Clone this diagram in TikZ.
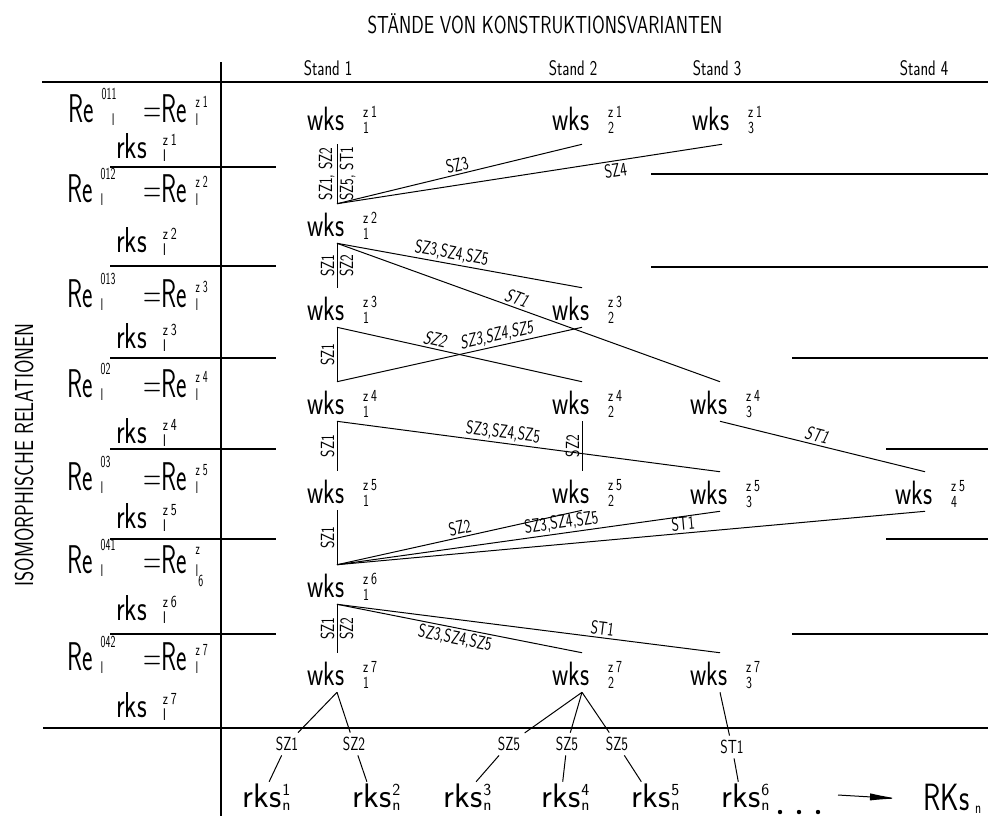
\documentclass[tikz,border=0pt]{standalone}
\usepackage{fontspec}
\setmainfont{lmsans17-regular.otf}[FakeStretch=0.75]
\newfontfamily\slfont{lmsans17-regular.otf}[FakeStretch=0.75,FakeSlant=0.2]
\newfontfamily\widefont{lmsans17-regular.otf}
\newfontfamily\narrowfont{lmsans17-regular.otf}[FakeStretch=0.62]
\usetikzlibrary{arrows.meta}
\newcommand\idxfont{\fontsize{12}{12}\selectfont}
% index pair: [gap]{raise of top}{top}{bottom}
\newcommand\ix[4][.2em]{\makebox[0pt][l]{\hspace{#1}\raisebox{#2}{\idxfont #3}}\makebox[0pt][l]{\hspace{#1}\raisebox{-.09em}{\idxfont #4}}}
\newcommand\wk[2]{wks\ix[.56em]{.38em}{#1}{#2}\kern.66em}
\tikzset{
  rule/.style={line width=0.6mm},
  conn/.style={line width=0.25mm},
  ttl/.style={font={\fontsize{17.5}{18}\selectfont},inner sep=0pt},
  hd/.style={font={\fontsize{15}{15}\selectfont},inner sep=0pt,anchor=base},
  wks/.style={font={\fontsize{24}{24}\selectfont},inner sep=0pt,text height=8mm,text depth=1.75mm,anchor=base},
  re/.style={font={\narrowfont\fontsize{28.5}{29}\selectfont},inner sep=0pt,anchor=base west},
  rk/.style={font={\fontsize{25.6}{26}\selectfont},inner sep=0pt,anchor=base west},
  rkn/.style={font={\widefont\fontsize{24.2}{25}\selectfont},inner sep=1pt,anchor=base},
  rkbig/.style={font={\fontsize{27}{27}\selectfont},inner sep=0pt,anchor=base west},
  lbl/.style={font={\fontsize{13.5}{14}\selectfont},inner sep=1.5pt},
  slbl/.style={lbl,font={\slfont\fontsize{13.5}{14}\selectfont}},
  blbl/.style={lbl,inner sep=3pt},
}
\begin{document}
\begin{tikzpicture}[x=0.25mm,y=-0.25mm]
\useasboundingbox (0,0) rectangle (988,816);
% grid of the table
\draw[rule] (221,62) -- (221,816);
\draw[rule] (42,82) -- (988,82);
\draw[rule] (43,728) -- (988,728);
\draw[rule] (110,167) -- (276,167);
\draw[rule] (110,266) -- (276,266);
\draw[rule] (110,358) -- (276,358);
\draw[rule] (110,449) -- (276,449);
\draw[rule] (110,539) -- (276,539);
\draw[rule] (110,634) -- (276,634);
\draw[rule] (651,174) -- (988,174);
\draw[rule] (651,267) -- (988,267);
\draw[rule] (792,358) -- (988,358);
\draw[rule] (886,449) -- (988,449);
\draw[rule] (886,539) -- (988,539);
\draw[rule] (792,634) -- (988,634);

% headings
\node[ttl] (title) at (545,24) {STÄNDE VON KONSTRUKTIONSVARIANTEN};
\node[ttl,font={\fontsize{18.5}{19}\selectfont},rotate=90] (isorel) at (24,455) {ISOMORPHISCHE RELATIONEN};
\node[hd] (st1) at (328,75) {Stand 1};
\node[hd] (st2) at (573,75) {Stand 2};
\node[hd] (st3) at (717,75) {Stand 3};
\node[hd] (st4) at (924,75) {Stand 4};

% relations
\node[re] (ra1) at (68,122) {Re\ix[.2em]{.55em}{011}{\hspace{.6em}I}};
\node[re] (rb1) at (143,122) {=Re\ix[.22em]{.36em}{z\,1}{I}};
\node[rk] (rk1) at (116,158) {rks\ix[.44em]{.34em}{z\,1}{I}};
\node[re] (ra2) at (67,202) {Re\ix[.2em]{.55em}{012}{I}};
\node[re] (rb2) at (143,202) {=Re\ix[.22em]{.36em}{z\,2}{I}};
\node[rk] (rk2) at (116,252) {rks\ix[.44em]{.34em}{z\,2}{I}};
\node[re] (ra3) at (67,307) {Re\ix[.2em]{.55em}{013}{I}};
\node[re] (rb3) at (143,307) {=Re\ix[.22em]{.36em}{z\,3}{I}};
\node[rk] (rk3) at (116,348) {rks\ix[.44em]{.34em}{z\,3}{I}};
\node[re] (ra4) at (67,397) {Re\ix[.2em]{.55em}{02}{I}};
\node[re] (rb4) at (143,397) {=Re\ix[.22em]{.36em}{z\,4}{I}};
\node[rk] (rk4) at (116,443) {rks\ix[.44em]{.34em}{z\,4}{I}};
\node[re] (ra5) at (67,490) {Re\ix[.2em]{.55em}{03}{I}};
\node[re] (rb5) at (143,490) {=Re\ix[.22em]{.36em}{z\,5}{I}};
\node[rk] (rk5) at (116,528) {rks\ix[.44em]{.34em}{z\,5}{I}};
\node[re] (ra6) at (67,573) {Re\ix[.2em]{.55em}{041}{I}};
\node[re] (rb6) at (143,573) {=Re\ix[.22em]{.45em}{z}{I\raisebox{-.6em}{6}}};
\node[rk] (rk6) at (116,620) {rks\ix[.44em]{.34em}{z\,6}{I}};
\node[re] (ra7) at (67,670) {Re\ix[.2em]{.55em}{042}{I}};
\node[re] (rb7) at (143,670) {=Re\ix[.22em]{.36em}{z\,7}{I}};
\node[rk] (rk7) at (116,717) {rks\ix[.44em]{.34em}{z\,7}{I}};

% states
\node[wks,text depth=3.5mm] (w11) at (337,130) {\wk{z\,1}{1}};
\node[wks,text depth=3.5mm] (w21) at (582,130) {\wk{z\,1}{2}};
\node[wks,text depth=3.5mm] (w31) at (722,130) {\wk{z\,1}{3}};
\node[wks] (w12) at (337,236) {\wk{z\,2}{1}};
\node[wks] (w13) at (337,320) {\wk{z\,3}{1}};
\node[wks] (w23) at (582,320) {\wk{z\,3}{2}};
\node[wks] (w14) at (337,414) {\wk{z\,4}{1}};
\node[wks] (w24) at (582,414) {\wk{z\,4}{2}};
\node[wks] (w34) at (720,414) {\wk{z\,4}{3}};
\node[wks] (w15) at (337,503) {\wk{z\,5}{1}};
\node[wks] (w25) at (582,503) {\wk{z\,5}{2}};
\node[wks] (w35) at (720,504) {\wk{z\,5}{3}};
\node[wks] (w45) at (925,504) {\wk{z\,5}{4}};
\node[wks] (w16) at (337,597) {\wk{z\,6}{1}};
\node[wks] (w17) at (337,685) {\wk{z\,7}{1}};
\node[wks] (w27) at (582,685) {\wk{z\,7}{2}};
\node[wks] (w37) at (720,685) {\wk{z\,7}{3}};

% transitions
\draw[conn] (w12.north) -- node[lbl,midway,rotate=90,anchor=south] {SZ1, SZ2} node[lbl,midway,rotate=90,anchor=north] {SZ5, ST1} (w11.south);
\draw[conn] (w12.north) -- node[lbl,sloped,above,pos=0.5] {SZ3} (w21.south);
\draw[conn] (w12.north) -- node[lbl,sloped,below,pos=0.72] {SZ4} (w31.south);

\draw[conn] (w13.north) -- node[lbl,midway,rotate=90,anchor=south] {SZ1} node[lbl,midway,rotate=90,anchor=north] {SZ2} (w12.south);
\draw[conn] (w12.south) -- node[lbl,sloped,above,pos=0.46] {SZ3,SZ4,SZ5} (w23.north);
\draw[conn] (w12.south) -- node[slbl,sloped,above,pos=0.46] {ST1} (w34.north);

\draw[conn] (w14.north) -- node[lbl,midway,rotate=90,anchor=south] {SZ1} (w13.south);
\draw[conn] (w13.south) -- node[slbl,sloped,above,pos=0.39] {SZ2} (w24.north);
\draw[conn] (w14.north) -- node[slbl,sloped,above,pos=0.66] {SZ3,SZ4,SZ5} (w23.south);

\draw[conn] (w15.north) -- node[lbl,midway,rotate=90,anchor=south] {SZ1} (w14.south);
\draw[conn] (w14.south) -- node[lbl,sloped,above,pos=0.43] {SZ3,SZ4,SZ5} (w35.north);
\draw[conn] (w25.north) -- node[lbl,midway,rotate=90,anchor=south] {SZ2} (w24.south);
\draw[conn] (w34.south) -- node[slbl,sloped,above,pos=0.46] {ST1} (w45.north);

\draw[conn] (w16.north) -- node[lbl,midway,rotate=90,anchor=south] {SZ1} (w15.south);
\draw[conn] (w16.north) -- node[lbl,sloped,above,pos=0.51] {SZ2} (w25.south);
\draw[conn] (w16.north) -- node[lbl,sloped,above,pos=0.59] {SZ3,SZ4,SZ5} (w35.south);
\draw[conn] (w16.north) -- node[lbl,sloped,above,pos=0.59] {ST1} (w45.south);

\draw[conn] (w17.north) -- node[lbl,midway,rotate=90,anchor=south] {SZ1} node[lbl,midway,rotate=90,anchor=north] {SZ2} (w16.south);
\draw[conn] (w16.south) -- node[lbl,sloped,below,pos=0.49] {SZ3,SZ4,SZ5} (w27.north);
\draw[conn] (w16.south) -- node[lbl,sloped,above,pos=0.69] {ST1} (w37.north);

% variants
\node[blbl] (b1) at (287,744) {SZ1};
\node[blbl] (b2) at (354,744) {SZ2};
\node[blbl] (b3) at (509,744) {SZ5};
\node[blbl] (b4) at (567,744) {SZ5};
\node[blbl] (b5) at (617,744) {SZ5};
\node[blbl] (b6) at (732,747) {ST1};
\node[rkn] (r1) at (262,807) {rks\ix[.03em]{.35em}{1}{n}};
\node[rkn] (r2) at (372,807) {rks\ix[.03em]{.35em}{2}{n}};
\node[rkn] (r3) at (463,807) {rks\ix[.03em]{.35em}{3}{n}};
\node[rkn] (r4) at (561,807) {rks\ix[.03em]{.35em}{4}{n}};
\node[rkn] (r5) at (651,807) {rks\ix[.03em]{.35em}{5}{n}};
\node[rkn] (r6) at (741,807) {rks\ix[.03em]{.35em}{6}{n}};
\node[rkbig] (RK) at (923,810) {RKs\ix[.15em]{0em}{}{n}};
\draw[conn] (w17.south) -- (b1);
\draw[conn] (w17.south) -- (b2);
\draw[conn] (w27.south) -- (b3);
\draw[conn] (w27.south) -- (b4);
\draw[conn] (w27.south) -- (b5);
\draw[conn] (w37.south) -- (b6);
\draw[conn] (b1) -- (r1);
\draw[conn] (b2) -- (r2);
\draw[conn] (b3) -- (r3);
\draw[conn] (b4) -- (r4);
\draw[conn] (b5) -- (r5);
\draw[conn] (b6) -- (r6);
\fill (780,812) circle[radius=0.55mm];
\fill (799,812) circle[radius=0.55mm];
\fill (818,812) circle[radius=0.55mm];
\coordinate (arr) at (838,795);
\draw[conn,-{Latex[length=7mm,width=1.8mm]}] (arr) -- ([xshift=-6.25mm]RK.west);
\end{tikzpicture}
\end{document}
